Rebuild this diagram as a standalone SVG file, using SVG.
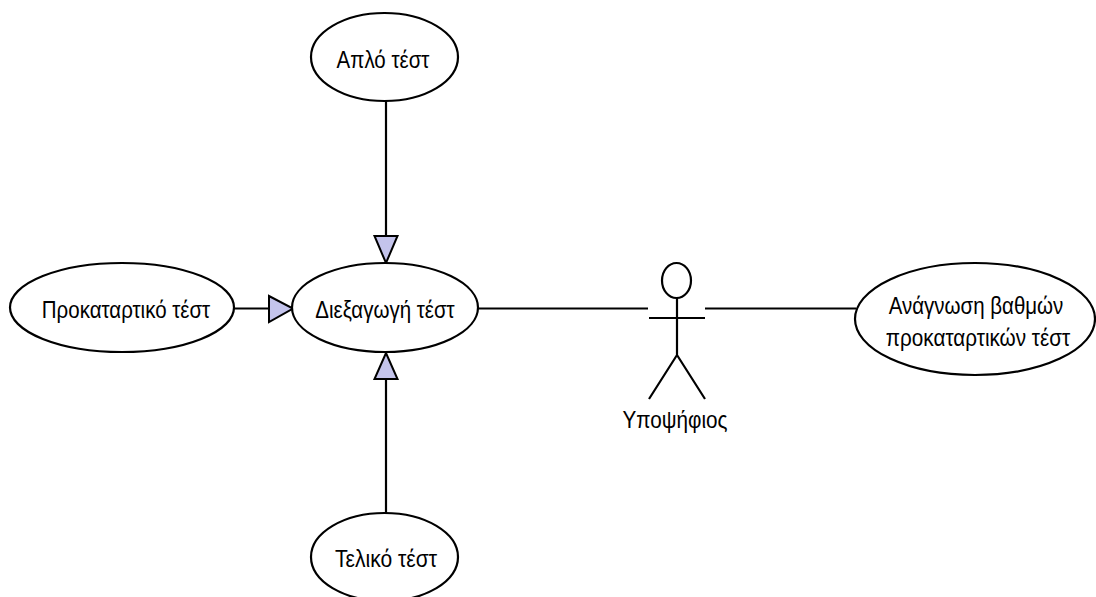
<svg xmlns="http://www.w3.org/2000/svg" width="1096" height="597" viewBox="0 0 1096 597">
<style>
.n{fill:#fff;stroke:#000;stroke-width:2.2}
.l{fill:none;stroke:#000;stroke-width:2.2}
.a{fill:#c4c4ec;stroke:#000;stroke-width:2}
text{font-family:"Liberation Sans",Arial,sans-serif;font-size:24.5px;text-anchor:middle;fill:#000}
</style>
<rect width="1096" height="597" fill="#fff"/>
<g id="connectors">
<path class="l" d="M386 101V236"/><polygon class="a" points="374.500,236 397.500,236 386,263"/>
<path class="l" d="M234 308.500H269"/><polygon class="a" points="269,296 269,322 293,308.500"/>
<path class="l" d="M386 379V513"/><polygon class="a" points="374.500,379 397.500,379 386,353"/>
<path class="l" d="M478 308.500H648"/>
<path class="l" d="M705 308.500H856"/>
</g>
<g id="n1"><ellipse class="n" cx="384.500" cy="57" rx="73.500" ry="44"/><text transform="translate(383 68) scale(.837 1)">Απλό τέστ</text></g>
<g id="n2"><ellipse class="n" cx="122" cy="307.500" rx="112" ry="44.500"/><text transform="translate(126 318) scale(.837 1)">Προκαταρτικό τέστ</text></g>
<g id="n3"><ellipse class="n" cx="385" cy="307.500" rx="93" ry="44.500"/><text transform="translate(385 318) scale(.837 1)">Διεξαγωγή τέστ</text></g>
<g id="n4"><ellipse class="n" cx="384.500" cy="557" rx="73.500" ry="44"/><text transform="translate(386 567) scale(.86 1)">Τελικό τέστ</text></g>
<g id="n5"><ellipse class="n" cx="975" cy="319" rx="120" ry="56"/><text transform="translate(976 314) scale(.837 1)">Ανάγνωση βαθμών</text><text transform="translate(978 346) scale(.845 1)">προκαταρτικών τέστ</text></g>
<g id="actor"><ellipse class="n" cx="676.500" cy="280.500" rx="14.500" ry="17.500"/><path class="l" d="M677 298V355M649 318H705M677 355L649 399M677 355L705 399"/><text transform="translate(675 428) scale(.845 1)">Υποψήφιος</text></g>
</svg>
